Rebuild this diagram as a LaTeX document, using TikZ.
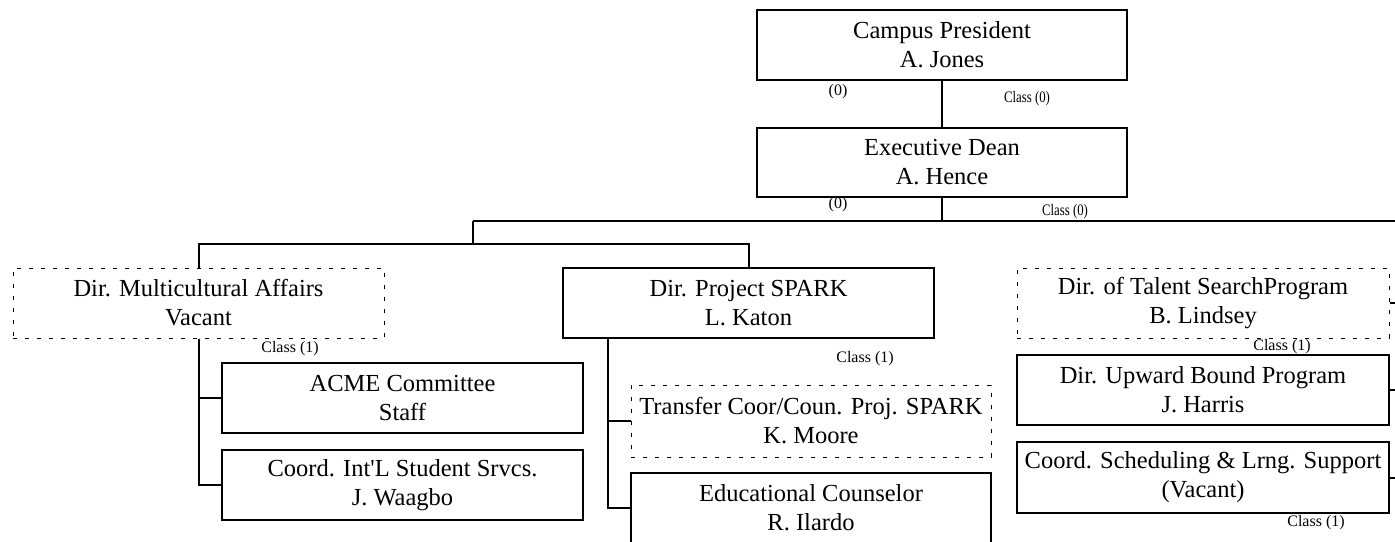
\documentclass[tikz,border=0pt]{standalone}
\usepackage{fontspec}
\setmainfont{Liberation Serif}
\usepackage{tikz}
\usetikzlibrary{shapes.geometric, arrows}
\newcommand{\postfont}{\fontsize{24.5}{29}\selectfont}
\newcommand{\notefont}{\fontsize{16}{18}\selectfont}
\tikzstyle{post} = [rectangle, minimum width=370pt, minimum height=70pt, inner sep=0pt, align=center, text centered, draw=black, line width=2pt, fill=white, font=\postfont]
\tikzstyle{vacant} = [post, line width=1pt, dash pattern=on 4pt off 8pt]
\tikzstyle{note} = [inner sep=0pt, font=\notefont]
\tikzstyle{zeronote} = [note, transform shape, xscale=0.8]
\tikzstyle{line} = [line width=2pt]

\begin{document}
\begin{tikzpicture}[x=1pt, y=-1pt]
\clip (0,0) rectangle (1395,541);
\node (president) [post] at (942,45) {Campus President\\A. Jones};
\node (dean) [post, minimum height=69pt] at (942,162.5) {Executive Dean\\A. Hence};
\node (multicultural) [vacant, minimum width=371pt] at (198.5,303) {Dir. Multicultural Affairs\\Vacant};
\node (spark) [post, minimum width=371pt] at (748.5,303) {Dir. Project SPARK\\L. Katon};
\node (talent) [vacant, minimum width=372pt] at (1203,303) {Dir. of Talent SearchProgram\\B. Lindsey};
\node (acme) [post, minimum width=361pt] at (402.5,398) {ACME Committee\\Staff};
\node (intl) [post, minimum width=361pt] at (402.5,485) {Coord. Int\textquotesingle L Student Srvcs.\\J. Waagbo};
\node (transfer) [vacant, minimum width=360pt, minimum height=72pt] at (811,421) {Transfer Coor/Coun. Proj. SPARK\\K. Moore};
\node (counselor) [post, minimum width=360pt] at (811,508) {Educational Counselor\\R. Ilardo};
\node (upward) [post, minimum width=372pt] at (1203,390) {Dir. Upward Bound Program\\J. Harris};
\node (scheduling) [post, minimum width=372pt, minimum height=71pt] at (1203,477.5) {Coord. Scheduling \& Lrng. Support\\(Vacant)};
% labels
\node (presZero) [note] at (838,92) {(0)};
\node (presClass) [zeronote] at (1027,99) {Class (0)};
\node (deanZero) [note] at (838,205) {(0)};
\node (deanClass) [zeronote] at (1065,212) {Class (0)};
\node (multiClass) [note] at (290,349) {Class (1)};
\node (sparkClass) [note] at (865,359) {Class (1)};
\node (talentClass) [note] at (1282,347) {Class (1)};
\node (schedClass) [note] at (1316,523) {Class (1)};
% junctions
\coordinate (busLeft) at (473,221);
\coordinate (busRight) at (1395,221);
\coordinate (sparkFoot) at (608,338);
\coordinate (rightEdge) at (1395,0);
\draw [line] (president) -- (dean);
\draw [line] (dean.south) -- (dean.south |- busRight);
\draw [line] (busLeft) -- (busRight);
\draw [line] (busLeft) -- ++(0,23);
\draw [line] (multicultural.north) -- ++(0,-24) -| (spark.north);
\draw [line] (multicultural.south) |- (acme.west);
\draw [line] (multicultural.south) |- (intl.west);
\draw [line] (sparkFoot) |- (transfer.west);
\draw [line] (sparkFoot) |- (counselor.west);
\draw [line] (talent.east) -- (talent.east -| rightEdge);
\draw [line] (upward.east) -- (upward.east -| rightEdge);
\draw [line] (scheduling.east) -- (scheduling.east -| rightEdge);
\end{tikzpicture}
\end{document}
